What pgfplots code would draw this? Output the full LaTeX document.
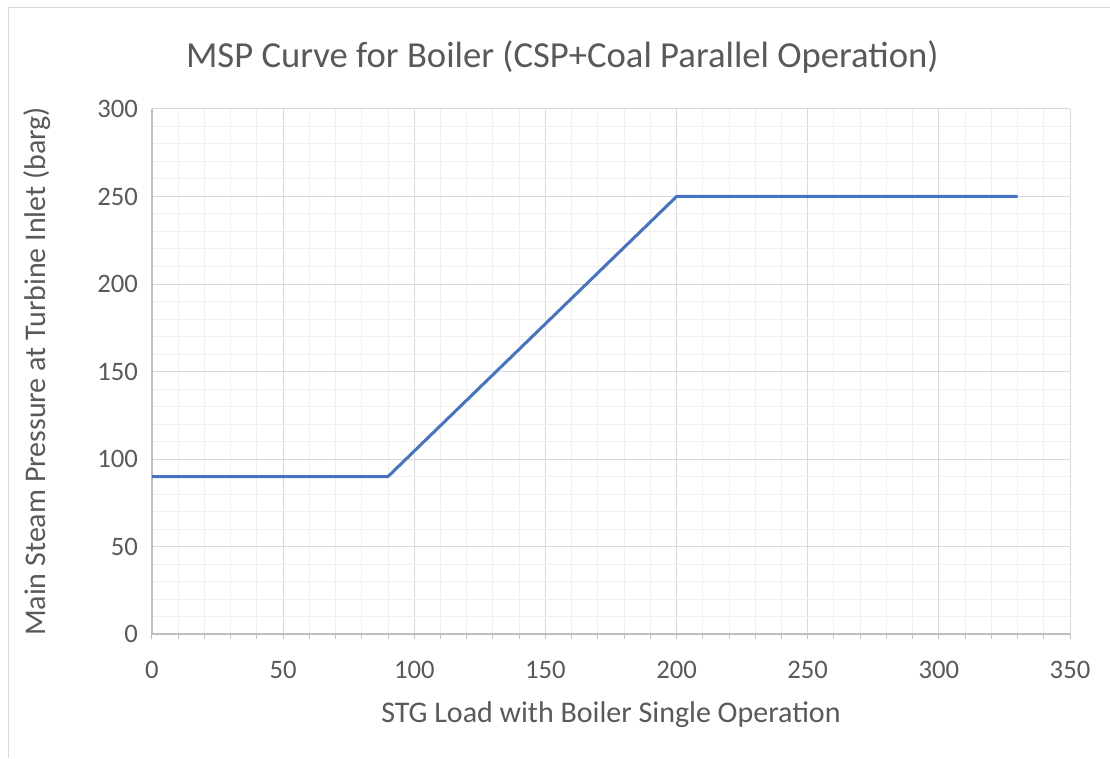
\documentclass[border=0pt]{standalone}
\usepackage{pgfplots}
\pgfplotsset{compat=1.18}
\usepackage{fontspec}
\setmainfont{Carlito}
\definecolor{txt}{HTML}{595959}
\definecolor{majg}{HTML}{D9D9D9}
\definecolor{ming}{HTML}{F0F0F0}
\definecolor{axl}{HTML}{BFBFBF}
\definecolor{line}{HTML}{4472C4}
\begin{document}
\begin{tikzpicture}
\path[use as bounding box] (0,0) rectangle (832.5pt,568.5pt);
\draw[majg, line width=0.75pt] (6pt,0) -- (6pt,562.5pt) -- (832.5pt,562.5pt);
\begin{axis}[
  scale only axis,
  width=688.5pt, height=393.75pt,
  at={(114pt,93pt)}, anchor=south west,
  xmin=0, xmax=350, ymin=0, ymax=300,
  xtick={0,50,...,350}, ytick={0,50,...,300},
  minor x tick num=4, minor y tick num=4,
  grid=both,
  major grid style={majg, line width=0.75pt},
  minor grid style={ming, line width=0.75pt},
  axis x line*=bottom, axis y line*=left,
  axis line style={axl, line width=0.9pt, -},
  tick align=outside,
  xtick style={axl, line width=0.75pt},
  minor x tick style={axl, line width=0.75pt},
  major tick length=4pt, minor tick length=4pt,
  ytick style={draw=none},
  minor y tick style={draw=none},
  tick label style={font=\fontsize{20}{24}\selectfont, text=txt},
  xticklabel style={yshift=-13pt},
  yticklabel style={xshift=-3pt},
  /pgf/number format/assume math mode=true,
  xlabel={STG Load with Boiler Single Operation},
  ylabel={Main Steam Pressure at Turbine Inlet (barg)},
  label style={font=\fontsize{22.5}{26}\selectfont, text=txt},
  xlabel style={at={(axis description cs:0.5,-0.154)}, anchor=center},
  ylabel style={at={(axis description cs:-0.125,0.5)}, anchor=center},
  title={MSP Curve for Boiler (CSP+Coal Parallel Operation)},
  title style={font=\fontsize{27.5}{32}\selectfont, text=txt, at={(axis description cs:0.447,1.084)}, anchor=center},
]
\addplot[line, line width=2.25pt, line join=round] coordinates {(0,90) (90,90) (200,250) (330,250)};
\end{axis}
\end{tikzpicture}
\end{document}
